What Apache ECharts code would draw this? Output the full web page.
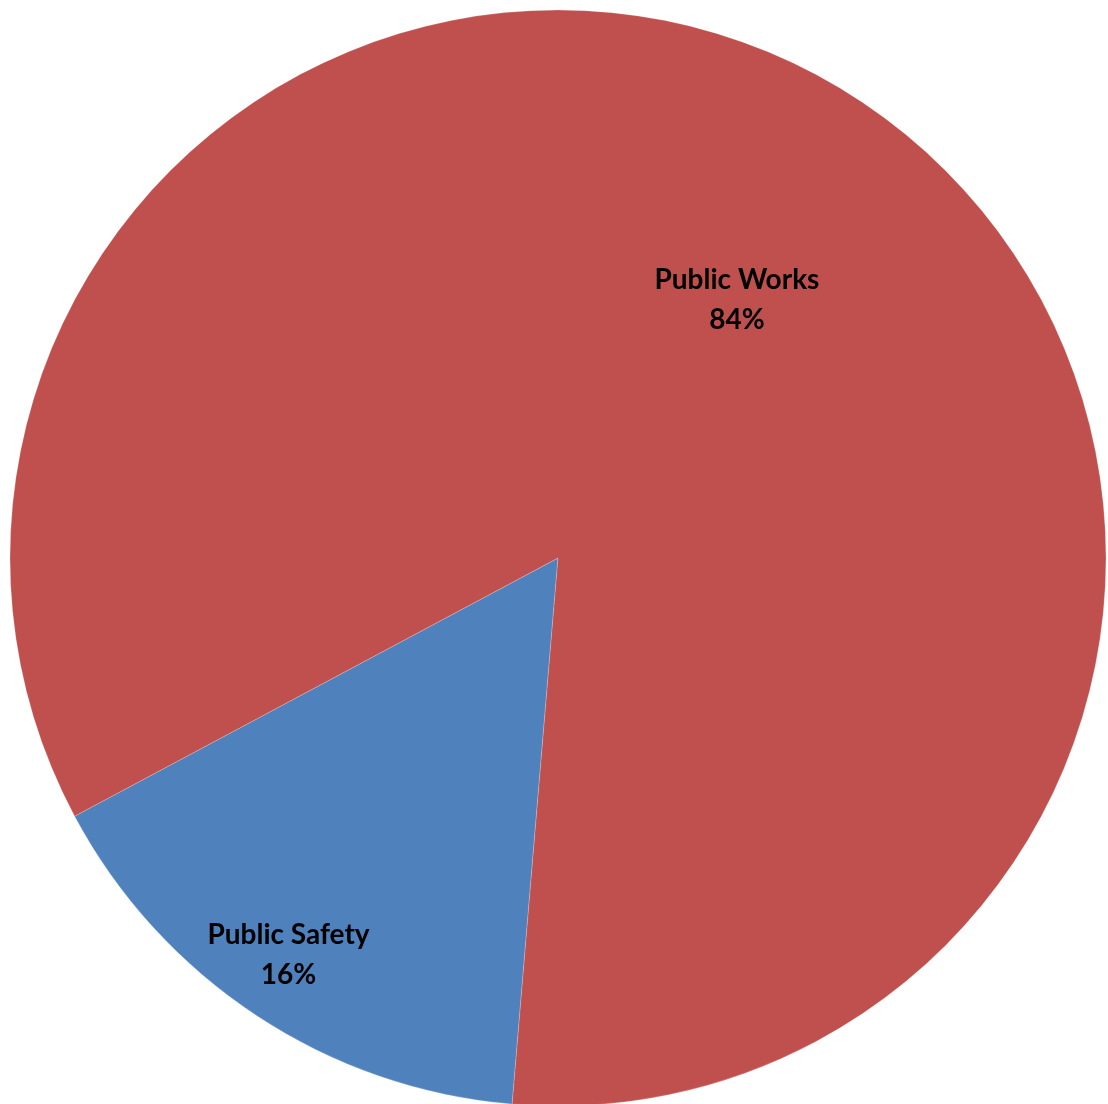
<!DOCTYPE html>
<html>
<head>
<meta charset="utf-8">
<script src="https://cdn.jsdelivr.net/npm/echarts@6/dist/echarts.min.js"></script>
<style>
html,body{margin:0;padding:0;background:#fff;}
#c{width:1108px;height:1104px;}
</style>
</head>
<body>
<div id="c"></div>
<script>
var categories = ['Public Safety', 'Public Works'];
var values = [15.86, 84.14];
var colors = ['#4F81BD', '#C0504D'];
var labelRadiusFrac = [0.876, 0.573];
var labelAngleShift = [0.8, 1.4];

var cx = 558, cy = 558, R = 548;
var startDeg = 184.8; // clockwise from 12 o'clock

var total = values.reduce(function(a,b){return a+b;},0);
var mids = [];
(function(){
  var acc = startDeg;
  for (var i=0;i<values.length;i++){
    var span = values[i]/total*360;
    mids.push(acc + span/2);
    acc += span;
  }
})();

var chart = echarts.init(document.getElementById('c'), null, {renderer:'canvas'});
chart.setOption({
  animation:false,
  backgroundColor:'#fff',
  series:[{
    type:'pie',
    center:[cx, cy],
    radius:[0, R],
    startAngle: 90 - startDeg,
    clockwise:true,
    avoidLabelOverlap:false,
    data: categories.map(function(n,i){
      return {name:n, value:values[i], itemStyle:{color:colors[i]}};
    }),
    itemStyle:{borderColor:'rgba(255,255,255,0.35)', borderWidth:0.6},
    label:{
      show:true,
      position:'inside',
      formatter:function(p){ return p.name + '\n' + Math.round(p.percent) + '%'; },
      fontFamily:'Lato',
      fontWeight:'bold',
      fontSize:28,
      lineHeight:40,
      color:'#000'
    },
    labelLine:{show:false},
    labelLayout:function(p){
      var i = p.dataIndex;
      var a = (mids[i] + labelAngleShift[i])*Math.PI/180;
      var r = R*labelRadiusFrac[i];
      return {x: cx + r*Math.sin(a), y: cy - r*Math.cos(a), align:'center', verticalAlign:'middle'};
    },
    emphasis:{disabled:true}
  }]
});
</script>
</body>
</html>
